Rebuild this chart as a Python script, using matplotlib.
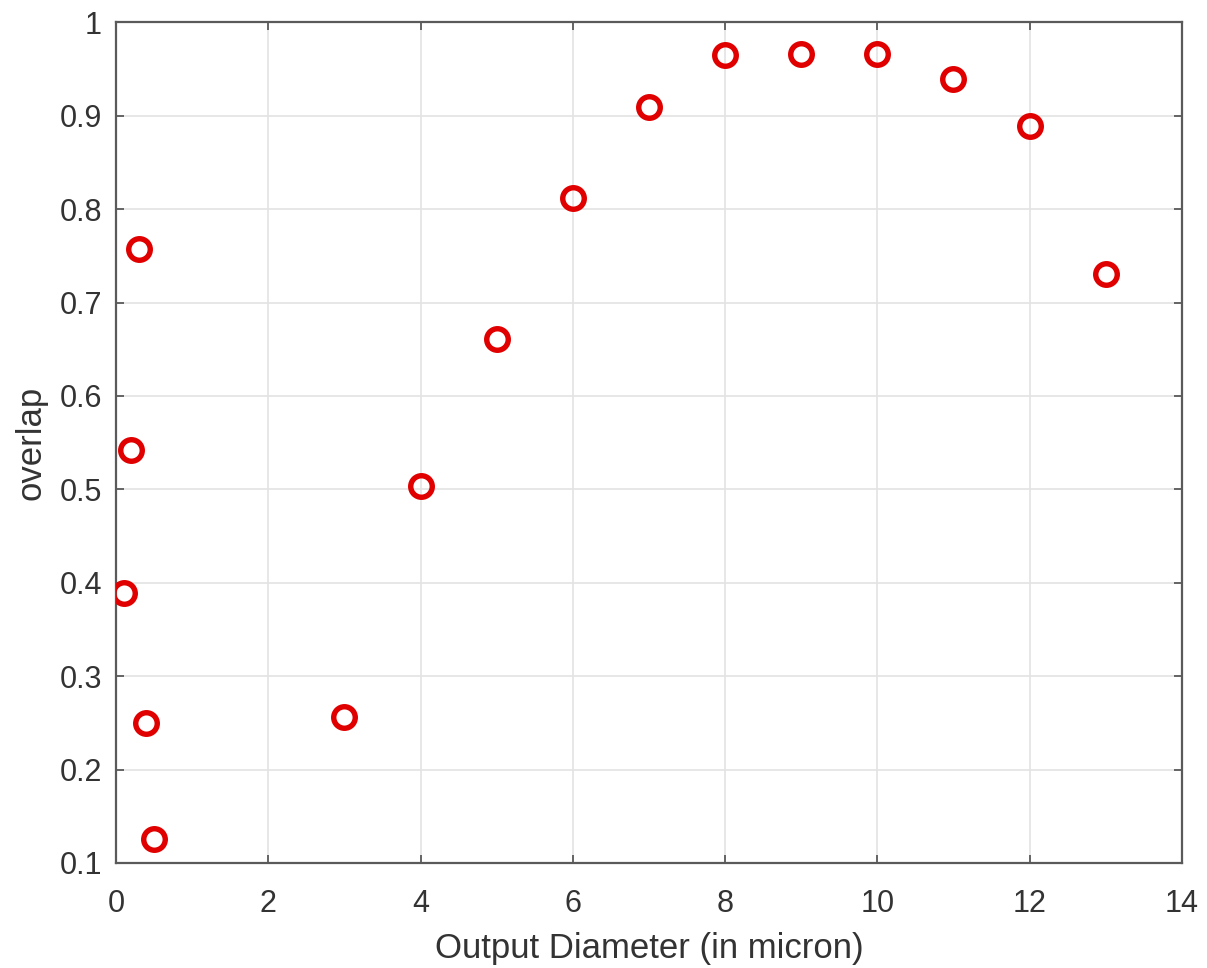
import numpy as np
import matplotlib
matplotlib.use('Agg')
import matplotlib.pyplot as plt

plt.rcParams['font.family'] = ['Liberation Sans', 'DejaVu Sans']

# output diameter (micron) and mode overlap
diameter = [0.1, 0.2, 0.3, 0.4, 0.5, 3, 4, 5, 6, 7, 8, 9, 10, 11, 12, 13]
overlap = [0.389, 0.542, 0.757, 0.250, 0.126, 0.256, 0.504, 0.661, 0.812,
           0.909, 0.965, 0.966, 0.966, 0.939, 0.889, 0.731]

xticks = [0, 2, 4, 6, 8, 10, 12, 14]
yticks = [0.1, 0.2, 0.3, 0.4, 0.5, 0.6, 0.7, 0.8, 0.9, 1]
ylabels = ['0.1', '0.2', '0.3', '0.4', '0.5', '0.6', '0.7', '0.8', '0.9', '1']

fig = plt.figure(figsize=(12.07, 9.68), dpi=100)
ax = fig.add_axes([0.0961, 0.1085, 0.883, 0.8685])

ax.plot(diameter, overlap, 'o', color='#e00000', markerfacecolor='none',
        markersize=15.5, markeredgewidth=3.9, zorder=3)

ax.set_xlim(0, 14)
ax.set_ylim(0.1, 1)
ax.set_xticks(xticks)
ax.set_yticks(yticks)
ax.set_yticklabels(ylabels)
ax.grid(True, color='#e3e3e3', linewidth=1.2)
ax.set_axisbelow(True)

for s in ax.spines.values():
    s.set_color('#5a5a5a')
    s.set_linewidth(1.6)
ax.tick_params(direction='in', length=6, width=1.3, color='#5a5a5a',
               top=True, right=True, labelsize=22, labelcolor='#333333')
ax.tick_params(axis='x', pad=19)
ax.tick_params(axis='y', pad=10)

ax.set_xlabel('Output Diameter (in micron)', fontsize=25, color='#333333', labelpad=9)
ax.set_ylabel('overlap', fontsize=25, color='#333333', labelpad=9)

fig.savefig('out.png', dpi=100, facecolor='white')
